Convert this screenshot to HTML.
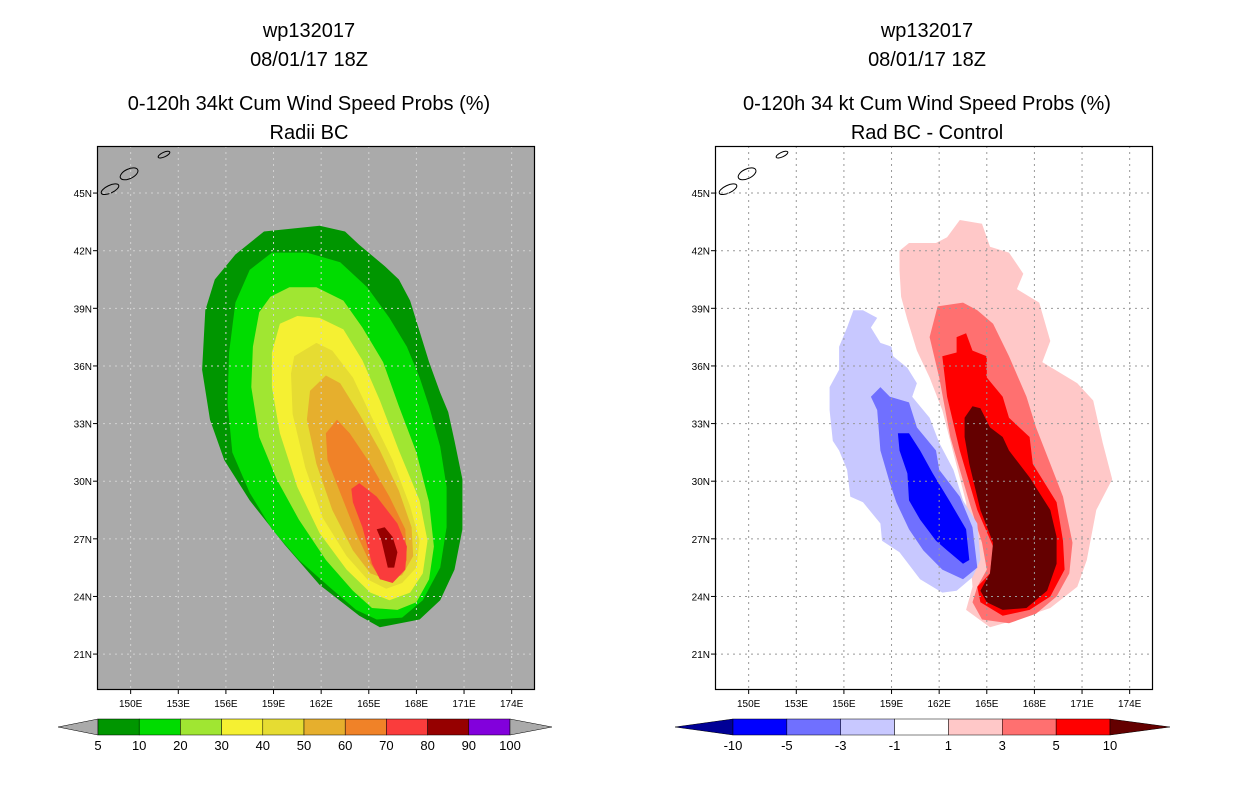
<!DOCTYPE html>
<html><head><meta charset="utf-8"><style>
html,body{margin:0;padding:0;background:#fff;}
svg{display:block;font-family:"Liberation Sans",sans-serif;}
</style></head><body>
<svg id="chart" width="1236" height="800" viewBox="0 0 1236 800">
<g id="titles" font-size="20" text-anchor="middle" fill="#000">
<text x="309" y="37">wp132017</text>
<text x="309" y="66">08/01/17 18Z</text>
<text x="309" y="110">0-120h 34kt Cum Wind Speed Probs (%)</text>
<text x="309" y="139">Radii BC</text>
<text x="927" y="37">wp132017</text>
<text x="927" y="66">08/01/17 18Z</text>
<text x="927" y="110">0-120h 34 kt Cum Wind Speed Probs (%)</text>
<text x="927" y="139">Rad BC - Control</text>
</g>
<g id="left-panel"></g>
<g id="right-panel"></g>
<g id="left-bar"></g>
<g id="right-bar"></g>
</svg>
<script>
const lonTicks=[150,153,156,159,162,165,168,171,174];
const latTicks=[45,42,39,36,33,30,27,24,21];
const leftLevels=[5,10,20,30,40,50,60,70,80,90,100];
const leftColors=["#009600","#00dc00","#a0e632","#f5f032","#e6dc32","#e6af2d","#f08228","#fa3c3c","#960000","#8200dc"];
const rightLevels=[-10,-5,-3,-1,1,3,5,10];
const rightColors=["#0000ff","#7070ff","#c8c8ff","#ffffff","#ffc8c8","#ff7070","#ff0000"];
const leftC5=[[161.9,43.3],[163.5,43.0],[164.4,42.3],[166.0,41.2],[166.9,40.5],[167.6,39.4],[168.2,37.8],[168.8,36.2],[169.5,34.6],[170.0,33.6],[170.4,32.1],[170.9,30.1],[170.9,27.5],[170.4,25.4],[169.5,23.8],[168.2,22.8],[165.7,22.4],[164.4,23.0],[161.9,24.6],[159.7,26.7],[157.5,29.0],[155.9,31.1],[155.0,33.2],[154.5,35.8],[154.7,38.9],[155.3,40.5],[156.6,41.8],[158.4,43.0]];
const leftC10=[[157.5,41.0],[158.9,41.9],[161.1,41.9],[163.2,41.4],[164.9,40.1],[166.3,38.5],[167.4,37.0],[168.2,35.4],[168.8,33.9],[169.5,31.8],[169.9,29.7],[169.9,27.6],[169.5,25.5],[168.4,23.8],[167.1,22.9],[165.5,22.8],[164.2,23.3],[162.5,24.5],[160.6,25.9],[158.9,27.5],[157.5,29.4],[156.4,31.5],[156.1,34.1],[156.2,36.7],[156.6,39.3]];
const leftC20=[[158.8,39.6],[160.0,40.1],[161.7,40.1],[163.4,39.4],[164.6,38.0],[165.9,36.2],[166.9,33.9],[168.0,31.5],[168.8,28.9],[169.1,26.6],[168.8,24.9],[168.0,23.7],[166.8,23.3],[165.2,23.4],[164.0,24.3],[162.3,25.9],[160.6,28.0],[159.2,30.1],[158.1,32.3],[157.6,34.9],[157.7,37.0],[158.1,38.8]];
const leftC30=[[159.4,38.2],[160.5,38.6],[161.9,38.5],[163.4,37.9],[164.6,36.3],[165.7,34.2],[166.9,31.6],[168.2,29.0],[168.7,26.9],[168.4,25.2],[167.6,24.2],[166.3,23.8],[165.1,24.2],[163.6,25.4],[161.9,27.3],[160.5,29.7],[159.4,32.5],[158.9,34.9],[158.9,36.7]];
const leftC40=[[160.3,36.5],[161.7,37.2],[162.7,36.8],[164.0,35.4],[165.2,33.3],[166.5,31.1],[167.6,28.7],[168.2,26.9],[168.0,25.5],[167.1,24.7],[166.1,24.4],[164.9,24.9],[163.6,26.1],[162.1,28.1],[161.0,30.7],[160.2,33.5],[160.1,35.6]];
const leftC50=[[161.3,34.7],[162.3,35.5],[163.2,35.1],[164.4,33.5],[165.7,31.6],[166.9,29.5],[167.7,27.6],[167.8,26.1],[167.1,25.1],[166.1,24.9],[165.1,25.2],[164.0,26.4],[162.7,28.5],[161.7,30.9],[161.1,33.2]];
const leftC60=[[162.3,32.5],[163.0,33.2],[163.8,32.5],[165.1,30.9],[166.3,29.2],[167.3,27.5],[167.4,25.9],[166.8,25.0],[165.7,25.0],[165.1,25.7],[164.2,27.3],[163.2,29.4],[162.4,31.1]];
const leftC70=[[163.9,29.6],[164.4,29.9],[165.5,29.2],[166.8,27.8],[167.4,26.6],[167.3,25.4],[166.5,24.7],[165.7,24.9],[165.2,25.7],[164.6,27.6],[164.0,28.9]];
const leftC80=[[165.5,27.5],[166.0,27.6],[166.5,27.1],[166.8,26.3],[166.6,25.5],[166.2,25.5],[165.8,26.9]];
const rightP1=[[159.5,42.0],[160.1,42.4],[161.8,42.4],[162.5,42.7],[163.3,43.6],[164.7,43.4],[165.2,42.2],[166.4,41.9],[167.3,40.8],[166.9,40.0],[168.3,39.3],[169.0,37.3],[168.5,36.2],[170.7,35.1],[171.7,34.2],[172.3,32.0],[172.9,30.1],[171.9,28.5],[171.3,25.9],[170.7,24.5],[169.0,23.4],[166.9,22.8],[165.2,22.4],[163.7,23.3],[164.1,24.5],[163.7,28.9],[162.2,33.7],[161.4,35.4],[160.6,36.8],[160.0,38.4],[159.6,39.6],[159.5,41.0]];
const rightP3=[[161.9,39.1],[163.5,39.3],[164.4,38.9],[165.4,38.2],[166.4,36.5],[167.5,34.4],[168.1,32.8],[169.0,30.9],[169.8,29.2],[170.4,26.8],[170.2,25.2],[169.4,24.0],[168.1,23.1],[166.4,22.6],[164.7,22.8],[164.1,23.7],[164.4,24.5],[165.0,25.4],[164.7,26.8],[163.9,28.9],[162.7,32.3],[162.0,35.4],[161.4,37.5]];
const rightP5=[[163.1,37.5],[163.7,37.7],[164.1,36.8],[165.0,36.5],[165.0,35.4],[166.0,34.4],[166.4,33.3],[167.7,32.3],[167.9,30.9],[169.4,28.9],[169.8,26.9],[169.9,25.4],[169.0,24.0],[167.7,23.3],[166.0,23.0],[164.6,23.7],[164.4,24.5],[165.2,25.2],[165.4,26.6],[164.4,28.5],[163.3,31.6],[162.5,34.4],[162.2,36.5],[163.1,36.7]];
const rightP10=[[163.6,33.3],[164.1,33.9],[164.6,33.8],[165.2,32.8],[166.0,32.3],[166.4,31.6],[167.7,30.2],[169.0,28.5],[169.4,27.1],[169.4,25.7],[168.8,24.3],[167.5,23.4],[166.0,23.3],[165.0,23.7],[164.6,24.3],[165.2,25.2],[165.4,26.8],[164.6,28.5],[163.9,30.9],[163.6,32.3]];
const rightN1=[[156.6,38.9],[157.2,38.9],[158.1,38.5],[157.7,38.0],[158.3,37.2],[159.0,37.0],[159.1,36.5],[160.0,35.9],[160.6,35.1],[160.3,34.4],[161.4,33.3],[162.0,32.0],[162.9,30.6],[163.5,29.0],[164.4,27.8],[164.6,25.9],[164.1,25.0],[163.1,24.3],[162.2,24.2],[160.8,24.9],[159.5,26.3],[158.4,26.9],[158.3,27.8],[157.2,28.9],[156.4,29.2],[156.2,30.6],[155.7,31.6],[155.3,32.1],[155.1,33.7],[155.1,34.9],[155.7,35.8],[155.7,37.0],[156.2,38.0]];
const rightN3=[[157.7,34.4],[158.3,34.9],[158.9,34.4],[160.1,34.1],[160.6,32.8],[161.8,31.6],[162.0,30.6],[163.3,29.2],[164.1,27.6],[164.4,25.5],[163.5,24.9],[162.2,25.4],[161.0,26.4],[160.1,27.5],[159.3,28.9],[158.9,29.9],[158.3,31.6],[158.1,33.7]];
const rightN5=[[159.4,32.5],[160.1,32.5],[160.8,31.6],[161.6,30.4],[162.7,28.9],[163.7,27.5],[163.9,25.9],[163.5,25.7],[162.5,26.4],[161.8,26.9],[160.8,28.0],[160.1,29.0],[160.0,30.4],[159.5,31.6]];
const islands=[[148.7,45.2,0.6,0.2],[149.9,46.0,0.6,0.25],[152.1,47.0,0.4,0.12]];

const NS="http://www.w3.org/2000/svg";
const W=438,H=544,TOP=146;
const LON0=147.88,LON1=175.47,LAT0=19.13,LAT1=47.45;
function mk(t,a,p){const e=document.createElementNS(NS,t);for(const k in a)e.setAttribute(k,a[k]);p.appendChild(e);return e;}
function panel(gid,x0,bg,gridCol,layers){
  const g=document.getElementById(gid);
  const xs=l=>x0+(l-LON0)/(LON1-LON0)*W;
  const ys=l=>TOP+(LAT1-l)/(LAT1-LAT0)*H;
  const clipId=gid+"-clip";
  const cp=mk("clipPath",{id:clipId},g);mk("rect",{x:x0,y:TOP,width:W,height:H},cp);
  const bgR=mk("rect",{x:x0,y:TOP,width:W,height:H,fill:bg},g);
  
  
  const cg=mk("g",{"clip-path":"url(#"+clipId+")"},g);
  layers.forEach(([pts,col,name])=>{
    const p=mk("polygon",{points:pts.map(q=>xs(q[0]).toFixed(1)+","+ys(q[1]).toFixed(1)).join(" "),fill:col},cg);
    
    
  });
  islands.forEach(s=>{
    const e=mk("ellipse",{cx:xs(s[0]),cy:ys(s[1]),rx:s[2]*15.9,ry:s[3]*19.2,fill:"none",stroke:"#000","stroke-width":1,transform:"rotate(-25 "+xs(s[0])+" "+ys(s[1])+")"},cg);
    
    
  });
  lonTicks.forEach(l=>{
    const x=xs(l);
    const ln=mk("line",{x1:x,y1:TOP,x2:x,y2:TOP+H,stroke:gridCol,"stroke-dasharray":"2,4","stroke-width":1},cg);
    
    
    mk("line",{x1:x,y1:TOP+H,x2:x,y2:TOP+H+4,stroke:"#000"},g);
    const t=mk("text",{x:x,y:TOP+H+17,"font-size":10,"text-anchor":"middle"},g);
    t.textContent=l+"E";
    
    
  });
  latTicks.forEach(l=>{
    const y=ys(l);
    const ln=mk("line",{x1:x0,y1:y,x2:x0+W,y2:y,stroke:gridCol,"stroke-dasharray":"2,4","stroke-width":1},cg);
    
    
    mk("line",{x1:x0-4,y1:y,x2:x0,y2:y,stroke:"#000"},g);
    const t=mk("text",{x:x0-5,y:y+4,"font-size":10,"text-anchor":"end"},g);
    t.textContent=l+"N";
    
    
  });
  const fr=mk("rect",{x:x0+0.5,y:TOP+0.5,width:W-1,height:H-1,fill:"none",stroke:"#000","stroke-width":1.2},g);
  
  
}
panel("left-panel",97,"#aaaaaa","#d2d2d2",[
 [leftC5,leftColors[0],"contour-5"],[leftC10,leftColors[1],"contour-10"],[leftC20,leftColors[2],"contour-20"],
 [leftC30,leftColors[3],"contour-30"],[leftC40,leftColors[4],"contour-40"],[leftC50,leftColors[5],"contour-50"],
 [leftC60,leftColors[6],"contour-60"],[leftC70,leftColors[7],"contour-70"],[leftC80,leftColors[8],"contour-80"]]);
panel("right-panel",715,"#ffffff","#999999",[
 [rightP1,"#ffc8c8","contour-plus-1"],[rightP3,"#ff7070","contour-plus-3"],[rightP5,"#ff0000","contour-plus-5"],[rightP10,"#640000","contour-plus-10"],
 [rightN1,"#c8c8ff","contour-minus-1"],[rightN3,"#7070ff","contour-minus-3"],[rightN5,"#0000ff","contour-minus-5"]]);

function colorbar(gid,xStart,xEnd,triL,triR,levels,colors,lowCol,highCol){
  const g=document.getElementById(gid);
  const y0=719,h=16,n=colors.length,bw=(xEnd-xStart)/n;
  const tl=mk("polygon",{points:(xStart-triL)+","+(y0+h/2)+" "+xStart+","+y0+" "+xStart+","+(y0+h),fill:lowCol,stroke:"#000","stroke-width":0.5},g);
  
  
  colors.forEach((c,i)=>{
    const r=mk("rect",{x:xStart+i*bw,y:y0,width:bw,height:h,fill:c,stroke:"#000","stroke-width":0.5},g);
    
    
  });
  const tr=mk("polygon",{points:(xEnd+triR)+","+(y0+h/2)+" "+xEnd+","+y0+" "+xEnd+","+(y0+h),fill:highCol,stroke:"#000","stroke-width":0.5},g);
  
  
  levels.forEach((v,i)=>{
    const t=mk("text",{x:xStart+i*bw,y:y0+h+15,"font-size":13,"text-anchor":"middle"},g);
    t.textContent=v;
    
    
  });
}
colorbar("left-bar",98,510,40,42,leftLevels,leftColors,"#aaaaaa","#aaaaaa");
colorbar("right-bar",733,1110,58,60,rightLevels,rightColors,"#000096","#640000");
</script>
</body></html>
